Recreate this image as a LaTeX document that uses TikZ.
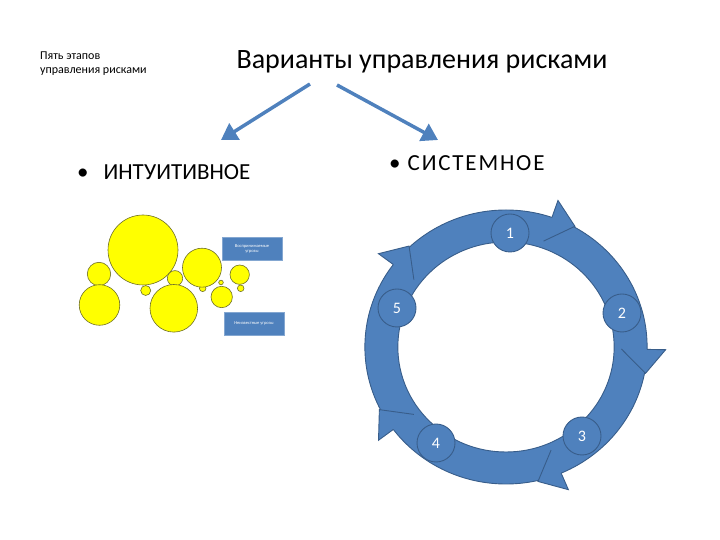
\documentclass[tikz,border=0pt]{standalone}
\usepackage{fontspec}
\setmainfont{Carlito}
\usetikzlibrary{arrows.meta}
\definecolor{pblue}{RGB}{79,129,189}
\definecolor{pdark}{RGB}{56,93,138}
\definecolor{yel}{RGB}{255,255,0}
\definecolor{yedge}{RGB}{110,110,40}
\begin{document}
\begin{tikzpicture}[x=1pt,y=1pt,
  bub/.style={circle,fill=yel,draw=yedge,line width=0.6pt,inner sep=0pt},
  bbox/.style={rectangle,fill=pblue,draw=pblue!70!white,line width=0.5pt,inner sep=0pt,minimum width=60pt,minimum height=23pt,text=white,font=\fontsize{4.5}{5}\selectfont,align=center},
  stage/.style={circle,fill=pblue,draw=pdark,line width=0.9pt,minimum size=38pt,inner sep=0pt,text=white,font=\fontsize{16}{18}\selectfont},
  ring/.style={fill=pblue,draw=pdark,line width=0.9pt},
  bigarrow/.style={pblue,line width=3.5pt,-{Triangle[width=19pt,length=16pt]}},
  lbl/.style={inner sep=0pt,anchor=west}
]
\useasboundingbox (0,0) rectangle (720,540);

% top texts
\node[inner sep=0pt,anchor=north west,align=left,font=\fontsize{12}{13.5}\selectfont] (stages) at (40,488) {Пять этапов\\управления рисками};
\node[inner sep=0pt,font=\fontsize{28}{31}\selectfont] (title) at (422,478) {Варианты управления рисками};

% branch arrows
\coordinate (la) at (310,456);
\coordinate (lb) at (221,400);
\coordinate (ra) at (337,455);
\coordinate (rb) at (438,400);
\draw[bigarrow] (la) -- (lb);
\draw[bigarrow] (ra) -- (rb);

\node[lbl,font=\fontsize{23}{26}\selectfont] (intu) at (77,368) {•\hspace{15pt}ИНТУИТИВНОЕ};
\node[lbl,font=\fontsize{23}{26}\selectfont] (syst) at (389,377) {•\hspace{7pt}\addfontfeature{LetterSpace=8}СИСТЕМНОЕ};

% bubbles
\node[bub,minimum size=4.6pt] (t1) at (221,257.5) {};
\node[bub,minimum size=10pt] (t2) at (145.7,249.5) {};
\node[bub,minimum size=6.6pt] (t3) at (202.7,251.7) {};
\node[bub,minimum size=6.6pt] (t4) at (240.7,251.7) {};
\node[bub,minimum size=70pt] (b1) at (143,290) {};
\node[bub,minimum size=23.4pt] (b2) at (99,266) {};
\node[bub,minimum size=40.6pt] (b3) at (99.5,235) {};
\node[bub,minimum size=15.4pt] (b4) at (175,261.7) {};
\node[bub,minimum size=47.6pt] (b5) at (173.8,231.7) {};
\node[bub,minimum size=39pt] (b6) at (202,272.3) {};
\node[bub,minimum size=21.4pt] (b7) at (221.7,243) {};
\node[bub,minimum size=19.4pt] (b8) at (239.7,265.3) {};

\node[bbox] (box1) at (252,291.5) {Воспринимаемые\\угрозы};
\node[bbox] (box2) at (254,216.5) {Неизвестные угрозы};

% cycle
\begin{scope}[shift={(506,193)},xscale=1.03]
  \path[ring,even odd rule] (0,0) circle (137) (0,0) circle (105);
  \foreach \t in {88,16,-50,-126,160}{
    \path[ring] ({\t-17}:137) -- ({\t-17}:155) -- ({\t-27}:138) -- ({\t-17}:112);
  }
\end{scope}

\node[stage] (s1) at (510,307) {1};
\node[stage] (s2) at (622,227) {2};
\node[stage] (s3) at (582,104) {3};
\node[stage] (s4) at (436,97) {4};
\node[stage] (s5) at (397,232) {5};
\end{tikzpicture}
\end{document}
